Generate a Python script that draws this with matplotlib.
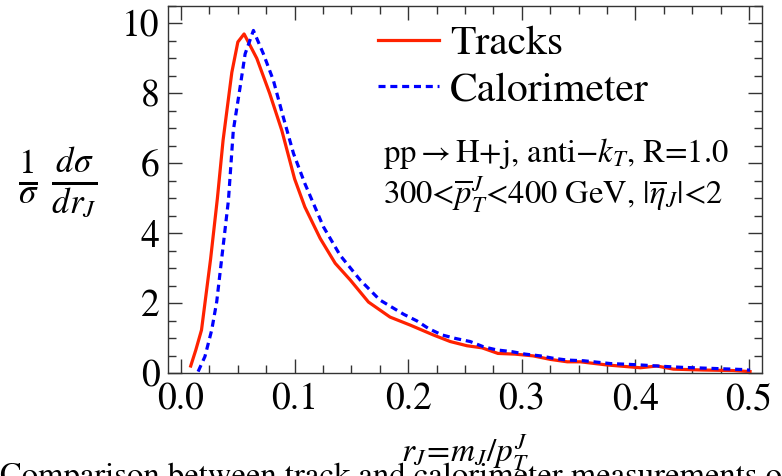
import numpy as np
import matplotlib
matplotlib.use('Agg')
import matplotlib.pyplot as plt
from matplotlib.ticker import MultipleLocator

# r_J values and normalized distributions
tracks_x = [0.0085, 0.013, 0.018, 0.026, 0.032, 0.037, 0.0447, 0.050, 0.0555,
            0.0667, 0.078, 0.0887, 0.100, 0.109, 0.1225, 0.1357, 0.149, 0.165,
            0.184, 0.2018, 0.222, 0.237, 0.2517, 0.265, 0.279, 0.294, 0.31,
            0.325, 0.34, 0.3515, 0.375, 0.4044, 0.419, 0.4335, 0.46, 0.486, 0.501]
tracks_y = [0.2, 0.66, 1.23, 3.26, 5.0, 6.66, 8.6, 9.47, 9.7,
            9.0, 8.0, 6.94, 5.55, 4.75, 3.85, 3.14, 2.66, 2.03,
            1.6, 1.37, 1.09, 0.9, 0.78, 0.72, 0.56, 0.54, 0.49,
            0.39, 0.32, 0.32, 0.23, 0.15, 0.2, 0.11, 0.085, 0.07, 0.04]

calo_x = [0.015, 0.021, 0.027, 0.0314, 0.0358, 0.0417, 0.046, 0.052, 0.0564,
          0.0637, 0.0725, 0.0813, 0.09, 0.099, 0.109, 0.1254, 0.14, 0.1577,
          0.175, 0.196, 0.2077, 0.218, 0.2297, 0.2414, 0.2546, 0.2663, 0.278,
          0.2914, 0.303, 0.3163, 0.328, 0.34, 0.3545, 0.378, 0.3927, 0.4044,
          0.43, 0.4426, 0.469, 0.494, 0.501]
calo_y = [0.04, 0.47, 1.23, 2.04, 3.28, 4.94, 6.94, 8.18, 9.13,
          9.8, 9.13, 8.37, 7.32, 6.28, 5.42, 4.18, 3.37, 2.66,
          2.09, 1.68, 1.49, 1.27, 1.09, 0.99, 0.9, 0.75, 0.66,
          0.61, 0.54, 0.49, 0.42, 0.37, 0.35, 0.27, 0.25, 0.23,
          0.18, 0.16, 0.13, 0.1, 0.08]

x_ticks = [0.0, 0.1, 0.2, 0.3, 0.4, 0.5]
y_ticks = [0, 2, 4, 6, 8, 10]

plt.rcParams['font.family'] = ['STIXGeneral', 'DejaVu Serif']
plt.rcParams['mathtext.fontset'] = 'stix'

fig = plt.figure(figsize=(7.82, 4.76), dpi=100)
ax = fig.add_axes([168 / 782, 1 - 373 / 476, (762 - 168) / 782, (373 - 6) / 476])

ax.plot(tracks_x, tracks_y, color='#ff2200', lw=2.3, label='Tracks',
        solid_joinstyle='round')
ax.plot(calo_x, calo_y, color='#0000ff', lw=2.3, dashes=(2.2, 1.5),
        label='Calorimeter')

ax.set_xlim(-0.0115, 0.5115)
ax.set_ylim(0, 10.5)
ax.set_xticks(x_ticks)
ax.set_xticklabels([f'{v:.1f}' for v in x_ticks])
ax.set_yticks(y_ticks)
ax.xaxis.set_minor_locator(MultipleLocator(0.025))
ax.yaxis.set_minor_locator(MultipleLocator(0.5))

ax.tick_params(which='both', direction='in', top=True, right=True,
               width=1.0, color='#333333')
ax.tick_params(which='major', length=10, labelsize=27)
ax.tick_params(which='minor', length=5.5)
ax.tick_params(axis='x', pad=7)
ax.tick_params(axis='y', pad=6)
for s in ax.spines.values():
    s.set_color('#333333')
    s.set_linewidth(1.0)

leg = ax.legend(loc='upper left', bbox_to_anchor=(0.354, 0.948), frameon=False,
                fontsize=30, handlelength=1.45, handletextpad=0.27,
                labelspacing=0.2, borderaxespad=0, borderpad=0)

ax.text(0.362, 0.575, r'pp${\rightarrow}$H+j, anti$-k_T$, R=1.0',
        transform=ax.transAxes, fontsize=23.5, va='baseline')
ax.text(0.362, 0.46, r'300<$\overline{p}_T^J$<400 GeV, |$\overline{\eta}_J$|<2',
        transform=ax.transAxes, fontsize=23.5, va='baseline')

fig.text(58 / 782, 1 - 183 / 476,
         r'$\frac{\mathit{1}}{\sigma}\;\frac{d\sigma}{dr_J}$',
         fontsize=36, ha='center', va='center')

fig.text(465 / 782, 1 - 453 / 476, r'$r_J\!=\!m_J/p_T^J$',
         fontsize=24, ha='center', va='center')

fig.text(0.0, -9 / 476,
         'Comparison between track and calorimeter measurements o',
         fontsize=23.5, ha='left', va='baseline')

fig.savefig('out.png', dpi=100)
